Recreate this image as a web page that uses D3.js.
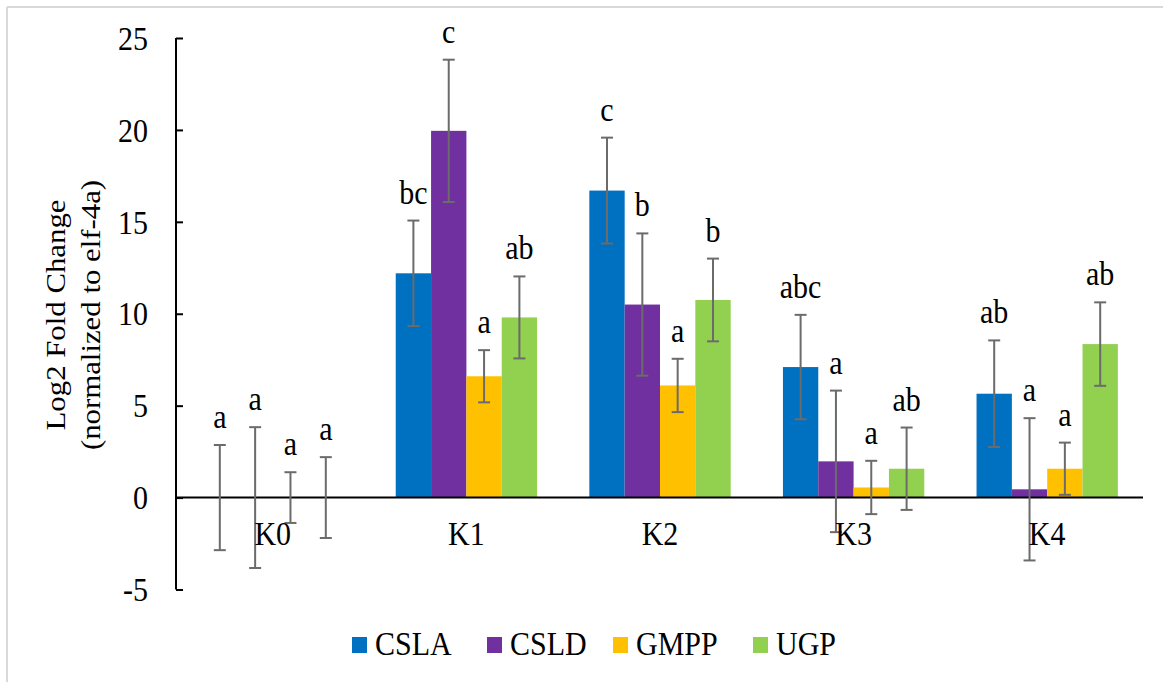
<!DOCTYPE html>
<html><head><meta charset="utf-8">
<script src="https://cdn.jsdelivr.net/npm/d3@7"></script>
<style>body{margin:0;background:#fff}svg{display:block}text{font-family:"Liberation Serif","Times New Roman",serif;fill:#000}</style>
</head><body><svg id="c" width="1163" height="682"></svg>
<script>
const categories = ["K0","K1","K2","K3","K4"];
const genes = ["CSLA","CSLD","GMPP","UGP"];
const colors = ["#0070C0","#7030A0","#FFC000","#92D050"];
const CSLA = [0, 12.2, 16.7, 7.1, 5.65];
const CSLD = [0, 19.95, 10.5, 1.97, 0.45];
const GMPP = [0, 6.6, 6.1, 0.55, 1.57];
const UGP  = [0, 9.8, 10.75, 1.57, 8.35];
const errCSLA = [2.86, 2.87, 2.88, 2.84, 2.9];
const errCSLD = [3.83, 3.87, 3.87, 3.85, 3.87];
const errGMPP = [1.38, 1.42, 1.45, 1.45, 1.42];
const errUGP  = [2.2, 2.23, 2.25, 2.24, 2.27];
const letCSLA = ["a","bc","c","abc","ab"];
const letCSLD = ["a","c","b","a","a"];
const letGMPP = ["a","a","a","a","a"];
const letUGP  = ["a","ab","b","ab","ab"];
const yTicks = [-5,0,5,10,15,20,25];

const values = [CSLA, CSLD, GMPP, UGP];
const errs = [errCSLA, errCSLD, errGMPP, errUGP];
const lets = [letCSLA, letCSLD, letGMPP, letUGP];
const svg = d3.select("#c");
const SY = 1.1, FS = 30, TFS = 28;

// frame
svg.append("line").attr("x1",7).attr("x2",1163).attr("y1",7).attr("y2",7).attr("stroke","#d9d9d9").attr("stroke-width",2);
svg.append("line").attr("x1",7).attr("x2",7).attr("y1",7).attr("y2",682).attr("stroke","#d9d9d9").attr("stroke-width",2);

const y = d3.scaleLinear().domain([-5,25]).range([589.5,38]);
const x = d3.scaleBand().domain(categories).range([176,1144]).paddingInner(0.27).paddingOuter(0.135);
const xi = d3.scaleBand().domain(genes).range([0,x.bandwidth()]);

const data = [];
categories.forEach((c,ci)=>genes.forEach((g,gi)=>data.push({c,g,gi,v:values[gi][ci],e:errs[gi][ci],l:lets[gi][ci]})));

// bars
svg.append("g").selectAll("rect").data(data).join("rect")
  .attr("x",d=>x(d.c)+xi(d.g)).attr("width",xi.bandwidth())
  .attr("y",d=>y(Math.max(0,d.v))).attr("height",d=>Math.abs(y(d.v)-y(0)))
  .attr("fill",d=>colors[d.gi]);

// x baseline
svg.append("line").attr("x1",176).attr("x2",1143).attr("y1",y(0)).attr("y2",y(0)).attr("stroke","#000").attr("stroke-width",2);

// y axis
const ya = svg.append("g").attr("transform","translate(176,0)")
  .call(d3.axisRight(y).tickValues(yTicks).tickSize(7).tickSizeOuter(0).tickFormat(d3.format("d")));
ya.select(".domain").attr("stroke","#000").attr("stroke-width",2).attr("d",`M0,${y(25)}V${y(-5)}`);
ya.selectAll(".tick line").attr("stroke","#000").attr("stroke-width",2);
ya.selectAll(".tick text").remove();
ya.selectAll(".tick").append("text")
  .attr("transform",`translate(-28,0) scale(1,${SY})`).attr("text-anchor","end").attr("dy","0.34em")
  .style("font-size",FS+"px").attr("fill","#000").text(d=>d);

// error bars
const eb = svg.append("g").attr("stroke","#6b6b6b").attr("stroke-width",2);
data.forEach(d=>{
  const cx = x(d.c)+xi(d.g)+xi.bandwidth()/2;
  eb.append("line").attr("x1",cx).attr("x2",cx).attr("y1",y(d.v+d.e)).attr("y2",y(d.v-d.e));
  eb.append("line").attr("x1",cx-6).attr("x2",cx+6).attr("y1",y(d.v+d.e)).attr("y2",y(d.v+d.e));
  eb.append("line").attr("x1",cx-6).attr("x2",cx+6).attr("y1",y(d.v-d.e)).attr("y2",y(d.v-d.e));
});

// letters
svg.append("g").selectAll("text").data(data).join("text")
  .attr("transform",d=>`translate(${x(d.c)+xi(d.g)+xi.bandwidth()/2},${y(d.v+d.e)-17}) scale(1,${SY})`)
  .attr("text-anchor","middle").style("font-size",FS+"px").text(d=>d.l);

// category labels
svg.append("g").selectAll("text").data(categories).join("text")
  .attr("transform",d=>`translate(${x(d)+x.bandwidth()/2},545) scale(1,${SY})`)
  .attr("text-anchor","middle").style("font-size",FS+"px").text(d=>d);

// y title
const tt = svg.append("g");
tt.append("text").attr("transform",`translate(65,315) rotate(-90) scale(${SY},1)`).attr("text-anchor","middle").style("font-size",TFS+"px").text("Log2 Fold Change");
tt.append("text").attr("transform",`translate(100,315) rotate(-90) scale(${SY},1)`).attr("text-anchor","middle").style("font-size",TFS+"px").text("(normalized to elf-4a)");

// legend
const lx = [352,487,613,753];
const lg = svg.append("g");
genes.forEach((g,i)=>{
  lg.append("rect").attr("x",lx[i]).attr("y",637).attr("width",15).attr("height",16).attr("fill",colors[i]);
  lg.append("text").attr("transform",`translate(${lx[i]+23},655) scale(1,${SY})`).style("font-size",FS+"px").text(g);
});
</script></body></html>
